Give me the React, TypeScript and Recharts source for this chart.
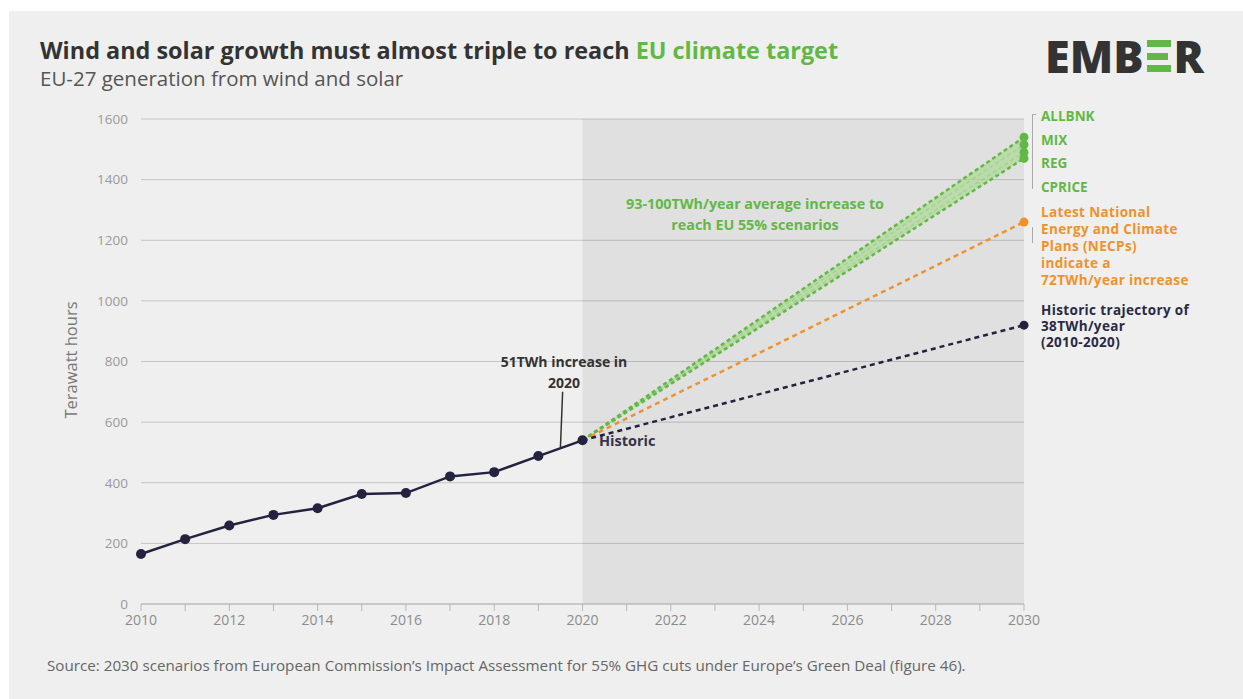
import React from "react";
import {
  ComposedChart,
  Line,
  Area,
  XAxis,
  YAxis,
  CartesianGrid,
  ReferenceArea,
  ReferenceLine,
} from "recharts";

// historic EU-27 wind + solar generation (TWh)
const histYears = [2010, 2011, 2012, 2013, 2014, 2015, 2016, 2017, 2018, 2019, 2020];
const histValues = [165, 214, 259, 294, 316, 363, 366, 421, 435, 488, 540];

// 2030 end points of the projections
const scenarioNames = ["ALLBNK", "MIX", "REG", "CPRICE"];
const scenario2030 = [1540, 1515, 1490, 1470];
const necp2030 = 1260;
const trend2030 = 920;

const yTicks = [0, 200, 400, 600, 800, 1000, 1200, 1400, 1600];
const xTicks = [2010, 2011, 2012, 2013, 2014, 2015, 2016, 2017, 2018, 2019, 2020, 2021, 2022, 2023, 2024, 2025, 2026, 2027, 2028, 2029, 2030];
const xLabels = [2010, 2012, 2014, 2016, 2018, 2020, 2022, 2024, 2026, 2028, 2030];

const GREEN = "#62b846";
const ORANGE = "#ef922b";
const NAVY = "#23233f";
const FONT = "'Open Sans', Lato, sans-serif";

const last = histValues[histValues.length - 1];
const histData = histYears.map((year, i) => ({ year, value: histValues[i] }));
const proj = (end: number) => [
  { year: 2020, value: last },
  { year: 2030, value: end },
];
const top = Math.max(...scenario2030);
const bottom = Math.min(...scenario2030);
const bandData = [
  { year: 2020, range: [last, last] },
  { year: 2030, range: [bottom, top] },
];

const endDot = (color: string) => (p: any) =>
  p.payload.year === 2030 ? (
    <circle key={p.key ?? p.index} cx={p.cx} cy={p.cy} r={4.5} fill={color} />
  ) : (
    <g key={p.key ?? p.index} />
  );

function Chart() {
  return (
    <ComposedChart
      width={1243}
      height={699}
      margin={{ top: 119, right: 219, bottom: 65, left: 101 }}
      style={{ position: "absolute", left: 0, top: 0 }}
    >
      <ReferenceArea x1={2020} x2={2030} y1={0} y2={1600} fill="#000" fillOpacity={0.06} stroke="none" />
      <CartesianGrid vertical={false} stroke="#c4c4c4" />
      <XAxis
        dataKey="year"
        type="number"
        domain={[2010, 2030]}
        ticks={xTicks}
        allowDuplicatedCategory={false}
        tickFormatter={(v) => (xLabels.includes(v) ? String(v) : "")}
        stroke="#b8b8b8"
        tickSize={7}
        tickMargin={4}
        height={30}
        tick={{ fill: "#8c8c8c", fontSize: 14, fontFamily: FONT }}
      />
      <YAxis
        type="number"
        domain={[0, 1600]}
        ticks={yTicks}
        axisLine={false}
        tickLine={false}
        tickSize={0}
        tickMargin={13}
        width={40}
        tick={{ fill: "#9a9a9a", fontSize: 13.5, fontFamily: FONT }}
      />
      <Area
        data={bandData}
        dataKey="range"
        type="linear"
        stroke="none"
        fill="#abd993"
        fillOpacity={0.7}
        isAnimationActive={false}
      />
      {scenarioNames.map((name, i) => {
        const edge = scenario2030[i] === top || scenario2030[i] === bottom;
        return (
          <Line
            key={name}
            data={proj(scenario2030[i])}
            dataKey="value"
            type="linear"
            stroke={GREEN}
            strokeOpacity={edge ? 1 : 0.25}
            strokeWidth={edge ? 2.5 : 1.5}
            strokeDasharray="4 3"
            dot={endDot(GREEN)}
            isAnimationActive={false}
          />
        );
      })}
      <Line
        data={proj(necp2030)}
        dataKey="value"
        type="linear"
        stroke={ORANGE}
        strokeWidth={2.5}
        strokeDasharray="5 4"
        dot={endDot(ORANGE)}
        isAnimationActive={false}
      />
      <Line
        data={proj(trend2030)}
        dataKey="value"
        type="linear"
        stroke={NAVY}
        strokeWidth={2.5}
        strokeDasharray="5 4"
        dot={endDot(NAVY)}
        isAnimationActive={false}
      />
      <ReferenceLine
        segment={[
          { x: 2019.5, y: 515 },
          { x: 2019.55, y: 700 },
        ]}
        stroke="#333"
        strokeWidth={1.5}
      />
      <Line
        data={histData}
        dataKey="value"
        type="linear"
        stroke={NAVY}
        strokeWidth={2.5}
        dot={{ r: 5, fill: NAVY, stroke: "none" }}
        isAnimationActive={false}
      />
    </ComposedChart>
  );
}

const abs = (s: React.CSSProperties): React.CSSProperties => ({ position: "absolute", whiteSpace: "nowrap", ...s });

export default function App() {
  return (
    <div style={{ position: "absolute", left: 0, top: 0, width: 1243, height: 699, background: "#fff", overflow: "hidden", fontFamily: FONT }}>
      <div style={{ position: "absolute", left: 9, top: 11, width: 1234, height: 688, background: "#efefef" }} />
      <Chart />

      <div style={abs({ left: 40, top: 35, fontSize: 23.4, lineHeight: "30px", fontWeight: 700, color: "#333" })}>
        Wind and solar growth must almost triple to reach <span style={{ color: GREEN }}>EU climate target</span>
      </div>
      <div style={abs({ left: 40, top: 64, fontSize: 20.5, lineHeight: "28px", color: "#555" })}>
        EU-27 generation from wind and solar
      </div>

      <div style={abs({ left: 1045, top: 33, fontSize: 45, lineHeight: "46px", fontWeight: 800, color: "#333", fontFamily: "'Open Sans', sans-serif", display: "flex", alignItems: "center" })}>
        EMB
        <span style={{ display: "inline-flex", flexDirection: "column", justifyContent: "space-between", width: 24, height: 32, margin: "0 3px" }}>
          <span style={{ height: 7, background: GREEN }} />
          <span style={{ height: 7, background: GREEN, width: 21 }} />
          <span style={{ height: 7, background: GREEN }} />
        </span>
        R
      </div>

      <div style={abs({ left: 70, top: 360, fontSize: 16.5, color: "#777", transform: "translate(-50%, -50%) rotate(-90deg)" })}>
        Terawatt hours
      </div>

      <div style={abs({ left: 615, top: 193, width: 280, textAlign: "center", fontSize: 14.3, lineHeight: "21px", fontWeight: 700, color: GREEN })}>
        93-100TWh/year average increase to
        <br />
        reach EU 55% scenarios
      </div>

      <div style={abs({ left: 489, top: 351, width: 150, textAlign: "center", fontSize: 14, lineHeight: "21px", fontWeight: 700, color: "#333" })}>
        51TWh increase in
        <br />
        2020
      </div>

      <div style={abs({ left: 599, top: 431, fontSize: 14.5, lineHeight: "20px", fontWeight: 700, color: "#33334a" })}>Historic</div>

      <div style={abs({ left: 1032, top: 114, width: 3, height: 74, borderLeft: "1px solid #aaa", borderTop: "1px solid #aaa" })} />
      <div style={abs({ left: 1032, top: 227, width: 3, height: 16, borderLeft: "1px solid #aaa" })} />

      <div style={abs({ left: 1041, top: 105, fontSize: 13.5, lineHeight: "23.7px", fontWeight: 700, color: GREEN })}>
        {scenarioNames.map((n) => (
          <div key={n}>{n}</div>
        ))}
      </div>

      <div style={abs({ left: 1041, top: 204, fontSize: 13.5, lineHeight: "17px", letterSpacing: 0.35, fontWeight: 700, color: ORANGE })}>
        Latest National
        <br />
        Energy and Climate
        <br />
        Plans (NECPs)
        <br />
        indicate a
        <br />
        72TWh/year increase
      </div>

      <div style={abs({ left: 1041, top: 302, fontSize: 13.5, lineHeight: "16px", letterSpacing: 0.35, fontWeight: 700, color: "#2a2a44" })}>
        Historic trajectory of
        <br />
        38TWh/year
        <br />
        (2010-2020)
      </div>

      <div style={abs({ left: 47, top: 655, fontSize: 15.2, lineHeight: "20px", color: "#666" })}>
        Source: 2030 scenarios from European Commission’s Impact Assessment for 55% GHG cuts under Europe’s Green Deal (figure 46).
      </div>
    </div>
  );
}
